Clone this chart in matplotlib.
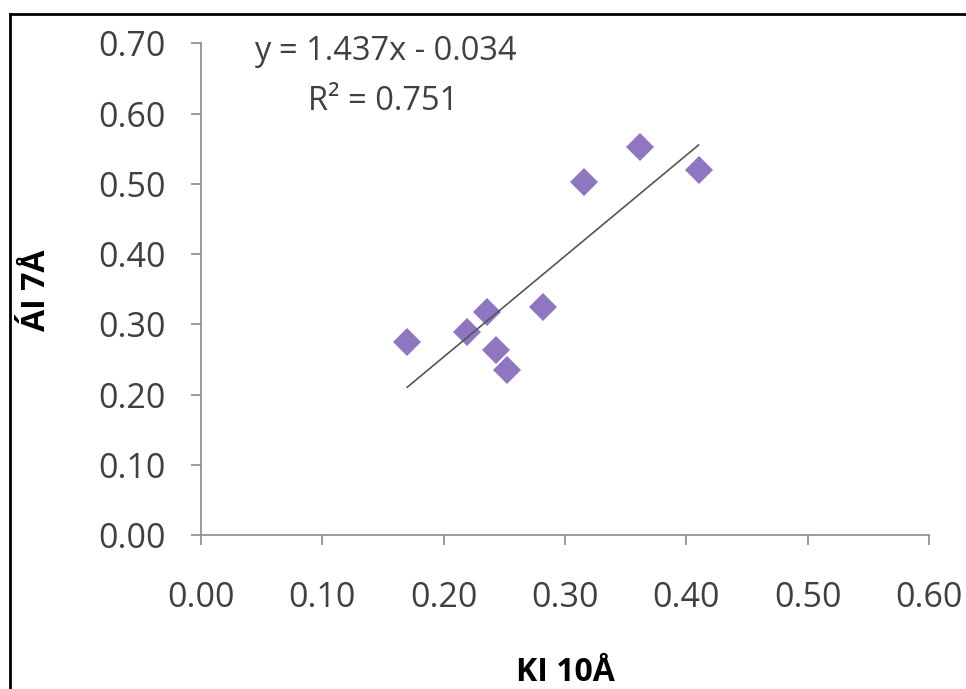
import matplotlib.pyplot as plt
from matplotlib.lines import Line2D

# dados
ki_10a = [0.170, 0.219, 0.236, 0.243, 0.252, 0.282, 0.316, 0.362, 0.410]
ai_7a = [0.275, 0.289, 0.317, 0.263, 0.235, 0.324, 0.502, 0.553, 0.520]
slope = 1.437
intercept = -0.034
r2 = 0.751

xticks = [0.0, 0.1, 0.2, 0.3, 0.4, 0.5, 0.6]
yticks = [0.0, 0.1, 0.2, 0.3, 0.4, 0.5, 0.6, 0.7]

plt.rcParams['font.family'] = ['Open Sans', 'DejaVu Sans']

fig = plt.figure(figsize=(9.66, 6.89), dpi=100)
ax = fig.add_axes([0.2078, 0.2235, 0.962 - 0.2078, 0.9372 - 0.2235])

ax.plot(ki_10a, ai_7a, linestyle='none', marker='D', ms=14.5,
        color='#8E76C0', markeredgewidth=0, zorder=3)

xmin, xmax = min(ki_10a), max(ki_10a)
ax.plot([xmin, xmax], [slope * xmin + intercept, slope * xmax + intercept],
        color='#555555', lw=1.2, zorder=4)

ax.set_xlim(0, 0.6)
ax.set_ylim(0, 0.7)
ax.set_xticks(xticks)
ax.set_yticks(yticks)
ax.set_xticklabels([f"{v:.2f}" for v in xticks])
ax.set_yticklabels([f"{v:.2f}" for v in yticks])

for s in ['top', 'right']:
    ax.spines[s].set_visible(False)
for s in ['left', 'bottom']:
    ax.spines[s].set_color('#8a8a8a')
    ax.spines[s].set_linewidth(1.2)

ax.tick_params(axis='both', direction='out', length=7, width=1.2,
               color='#8a8a8a', labelsize=24.5, labelcolor='#404040')
ax.tick_params(axis='y', pad=18)
ax.tick_params(axis='x', pad=26)

ax.set_xlabel("KI 10Å", fontsize=23, fontweight='bold', va='center')
ax.set_ylabel("ÁI 7Å", fontsize=23, fontweight='bold')
ax.xaxis.set_label_coords(0.501, -0.279)
ax.yaxis.set_label_coords(-0.203, 0.498)

fig.text(385 / 966, 1 - 52 / 689, f"y = {slope}x - {abs(intercept):.3f}",
         ha='center', va='center', fontsize=23.5, color='#404040')
fig.text(383 / 966, 1 - 101 / 689, f"R² = {r2}",
         ha='center', va='center', fontsize=23.5, color='#404040')

# moldura (só esquerda e topo ficam visíveis)
fig.add_artist(Line2D([10 / 966, 10 / 966], [0, 1 - 14 / 689],
                      transform=fig.transFigure, color='black', lw=2))
fig.add_artist(Line2D([10 / 966, 1], [1 - 14 / 689, 1 - 14 / 689],
                      transform=fig.transFigure, color='black', lw=2))

fig.savefig("out.png", dpi=100)
